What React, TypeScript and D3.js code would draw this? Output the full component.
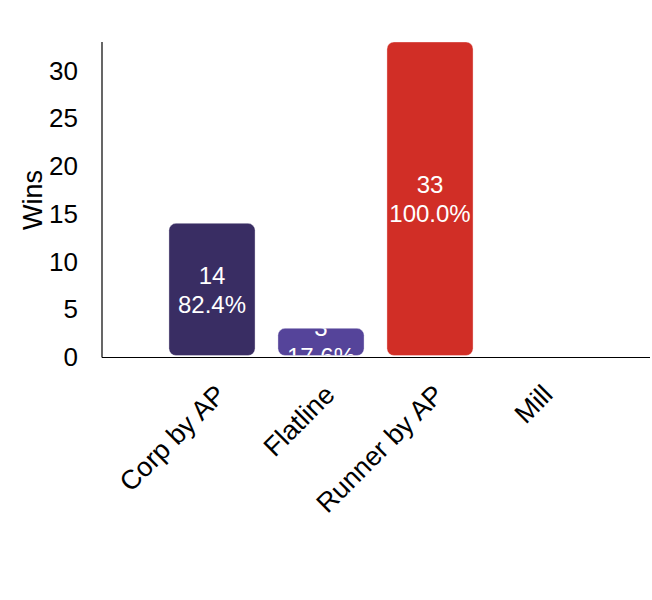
import React from "react";
import * as d3 from "d3";

const categories = ["Corp by AP", "Flatline", "Runner by AP", "Mill"];
const wins = [14, 3, 33, 0];
const percents = ["82.4%", "17.6%", "100.0%", "0.0%"];
const colors = ["#392d63", "#55449a", "#d12e26", "#888888"];
const yTicks = [0, 5, 10, 15, 20, 25, 30];

const W = 652;
const H = 600;
const left = 103;
const right = 648;
const top = 42;
const bottom = 357;
const font = "'Liberation Sans', Arial, Helvetica, sans-serif";

export default function App() {
  const x = d3
    .scaleBand<string>()
    .domain(categories)
    .range([left, right])
    .paddingInner(0.21)
    .paddingOuter(0.605);
  const y = d3.scaleLinear().domain([0, 33]).range([bottom, top]);

  return (
    <svg
      width={W}
      height={H}
      style={{ position: "absolute", left: 0, top: 0, background: "#fff" }}
    >
      <defs>
        {categories.map((c, i) => {
          const v = wins[i];
          if (v <= 0) return null;
          const y0 = y(v);
          const h = y(0) - y0 - 1.5;
          return (
            <clipPath id={`clip${i}`} key={c}>
              <rect x={x(c)} y={y0} width={x.bandwidth()} height={h} rx={7} ry={7} />
            </clipPath>
          );
        })}
      </defs>
      {categories.map((c, i) => {
        const v = wins[i];
        if (v <= 0) return null;
        const y0 = y(v);
        const h = y(0) - y0 - 1.5;
        const cx = (x(c) as number) + x.bandwidth() / 2;
        const cy = y0 + h / 2;
        return (
          <g key={c}>
            <rect
              x={x(c)}
              y={y0}
              width={x.bandwidth()}
              height={h}
              rx={7}
              ry={7}
              fill={colors[i]}
              stroke="#ffffff"
              strokeOpacity={0.35}
              strokeWidth={1}
            />
            <g clipPath={`url(#clip${i})`}>
              <text
                x={cx}
                y={cy - 14}
                textAnchor="middle"
                dominantBaseline="central"
                fill="#fff"
                fontFamily={font}
                fontSize={24}
              >
                {v}
              </text>
              <text
                x={cx}
                y={cy + 15}
                textAnchor="middle"
                dominantBaseline="central"
                fill="#fff"
                fontFamily={font}
                fontSize={24}
              >
                {percents[i]}
              </text>
            </g>
          </g>
        );
      })}
      <line x1={left - 1} x2={left - 1} y1={top} y2={bottom + 0.5} stroke="#000" strokeWidth={1.2} />
      <line x1={left - 1} x2={650} y1={bottom + 0.5} y2={bottom + 0.5} stroke="#000" strokeWidth={1.2} />
      {yTicks.map((t) => (
        <text
          key={t}
          x={78}
          y={y(t)}
          textAnchor="end"
          dominantBaseline="central"
          fontFamily={font}
          fontSize={26}
          fill="#000"
        >
          {t}
        </text>
      ))}
      <text
        transform={`translate(33, 200) rotate(-90)`}
        textAnchor="middle"
        dominantBaseline="central"
        fontFamily={font}
        fontSize={27}
        fill="#000"
      >
        Wins
      </text>
      {categories.map((c) => {
        const cx = (x(c) as number) + x.bandwidth() / 2;
        return (
          <text
            key={c}
            transform={`translate(${cx + 9}, ${390}) rotate(-45)`}
            textAnchor="end"
            dominantBaseline="central"
            fontFamily={font}
            fontSize={27}
            fill="#000"
          >
            {c}
          </text>
        );
      })}
    </svg>
  );
}
